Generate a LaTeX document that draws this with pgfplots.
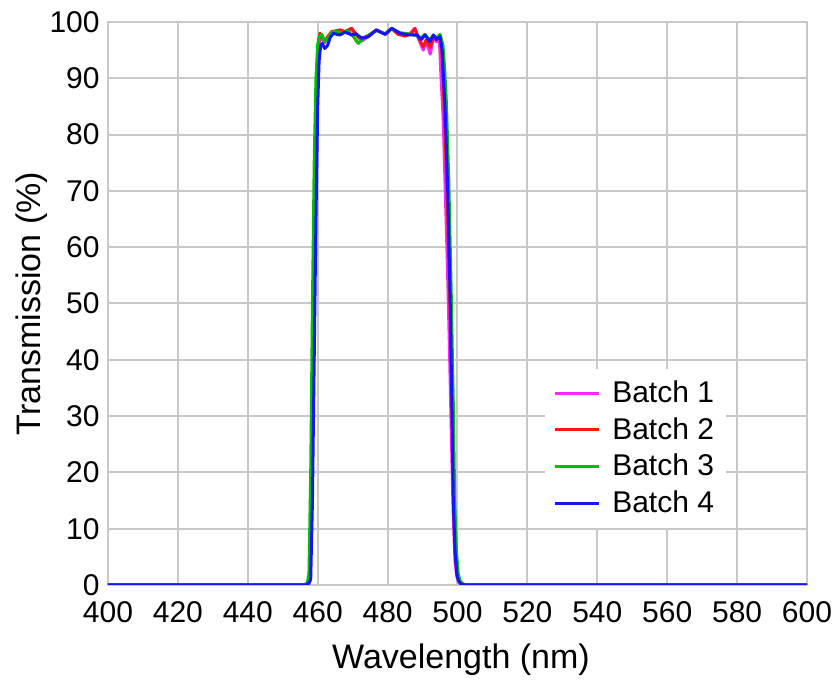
\documentclass[border=0pt]{standalone}
\usepackage{pgfplots}
\pgfplotsset{compat=1.18}
\usepackage{fontspec}
\setmainfont{Liberation Sans}
\usetikzlibrary{calc}
\definecolor{gridgray}{RGB}{200,200,200}
\definecolor{b1}{RGB}{255,40,255}
\definecolor{b2}{RGB}{255,20,20}
\definecolor{b3}{RGB}{0,190,0}
\definecolor{b4}{RGB}{20,20,255}

\begin{document}
\begin{tikzpicture}
\begin{axis}[
  scale only axis,
  width=349.5pt, height=281.5pt,
  xmin=400, xmax=600, ymin=0, ymax=100,
  xtick={400,420,...,600},
  ytick={0,10,...,100},
  grid=major,
  grid style={gridgray, line width=1pt},
  axis line style={gridgray, line width=1pt},
  major tick length=0pt,
  /pgf/number format/assume math mode=true,
  /pgf/number format/1000 sep={},
  tick label style={font=\fontsize{15}{17}\selectfont, inner sep=0pt},
  xticklabel style={yshift=-8pt},
  yticklabel style={xshift=-4pt},
  xlabel={Wavelength (nm)},
  ylabel={Transmission (\%)},
  label style={font=\fontsize{17}{20}\selectfont},
  xlabel style={at={(axis description cs:0.505,0)}, anchor=center, yshift=-37.5pt},
  ylabel style={at={(axis description cs:-0.109,0.5)}, anchor=center},
  legend style={at={(axis description cs:0.625,0.385)}, anchor=north west,
    fill=white, draw=none, font=\fontsize{15}{17}\selectfont,
    row sep=2pt, inner sep=4pt,
    /tikz/every odd column/.append style={column sep=4pt}},
  legend cell align=left,
  legend image post style={line width=1.5pt},
  legend image code/.code={\draw[#1] (0pt,0pt) -- (22pt,0pt);},
  every axis plot/.append style={line width=1.5pt, line join=round},
  clip=true,
]
\addplot[b1] coordinates {
(400,0) (456.5,0) (457.3,0.3) (457.8,2) (458.3,22) (458.8,50) (459.3,74)
(459.8,89) (460.2,95) (460.7,97.5) (461.3,97.0) (462,96.3) (463,97.4)
(464,98.2) (465,98.3) (466.4,98.4) (467.8,98.2) (469.7,98.7) (470.8,97.8)
(472.6,96.6) (474,97.2) (475.5,97.9) (476.8,98.5) (479.3,97.9) (481.2,98.9)
(483,98.0) (485,97.6) (486.5,98.0) (487.8,98.9) (489,96.8) (490.2,95.0)
(491,96.6) (492.2,94.3) (493.1,97.2) (494,96.5) (494.8,97.0) (495.3,90)
(495.9,83) (496.5,70) (497.1,57) (497.7,42) (498.3,25) (498.8,12)
(499.3,4) (499.8,1.5) (500.4,0.5) (501,0.1) (502,0) (600,0)
};
\addlegendentry{Batch 1}
\addplot[b2] coordinates {
(400,0) (456.5,0) (457.3,0.3) (457.8,3) (458.3,25) (458.8,52) (459.3,76)
(459.8,90) (460.2,96) (460.6,98.0) (461.2,97.5) (462,96.6) (463,97.5)
(464,98.3) (465,98.4) (466.4,98.6) (467.8,98.3) (469.7,98.9) (470.8,98.0)
(472,97.2) (473.5,97.3) (475,97.8) (476.8,98.6) (479.3,97.8) (481.2,98.8)
(483,97.8) (485,97.5) (486.5,97.8) (487.8,98.8) (489,97.0) (490.2,95.6)
(491,96.8) (492.2,95.5) (493.1,97.4) (494,96.8) (495,97.5) (495.6,94)
(496,88) (496.5,80) (497.2,66) (497.9,48) (498.5,28) (498.9,14)
(499.4,5) (499.9,1.8) (500.4,0.7) (501,0.2) (502,0) (600,0)
};
\addlegendentry{Batch 2}
\addplot[b3] coordinates {
(400,0) (456,0) (457,0.3) (457.5,2) (458,20) (458.5,50) (459,75)
(459.5,90) (460,96) (460.5,97.5) (461.2,97.8) (462,96.5) (463,97.2)
(464,98.2) (465.5,98.3) (467,98.0) (468.5,98.4) (470,97.6) (471.6,96.2)
(472.6,96.8) (474.5,97.6) (476.8,98.5) (479.3,97.9) (481.2,98.8) (483.5,98.1)
(485.9,97.9) (488,97.6) (489.7,97.2) (490.7,97.8) (492,96.8) (493.1,97.6)
(494,97.2) (495,97.8) (495.8,96) (496.3,92) (496.8,86) (497.5,72)
(498.2,52) (498.8,32) (499.2,15) (499.7,6) (500.2,2) (500.7,0.8)
(501.3,0.3) (502,0.1) (503,0) (600,0)
};
\addlegendentry{Batch 3}
\addplot[b4] coordinates {
(400,0) (456.5,0) (457.5,0.3) (458,1) (458.5,15) (459,40) (459.5,65)
(460,85) (460.4,93) (460.8,95.6) (461.3,96.2) (462,95.3) (462.8,95.8)
(463.6,97.3) (464.5,98.0) (465.5,97.8) (466.4,97.7) (467.8,98.2) (469,97.9)
(469.7,97.7) (471,97.9) (472.6,97.1) (474.5,97.4) (476.8,98.6) (478,98.2)
(479.3,97.8) (481.2,98.9) (483.5,98.0) (485.9,97.7) (488.3,97.7) (489.7,96.9)
(490.7,97.7) (492.1,96.5) (493.1,97.7) (494,96.9) (495,97.4) (495.6,95)
(496,90) (496.5,84) (497.2,70) (497.9,51) (498.4,32) (498.8,15)
(499.3,6) (499.8,2) (500.2,0.9) (500.8,0.3) (501.5,0.1) (502.5,0) (600,0)
};
\addlegendentry{Batch 4}
\end{axis}
\path ($(current axis.south west)+(-54pt,-47.5pt)$) rectangle ($(current axis.north east)+(15pt,11pt)$);
\end{tikzpicture}
\end{document}
